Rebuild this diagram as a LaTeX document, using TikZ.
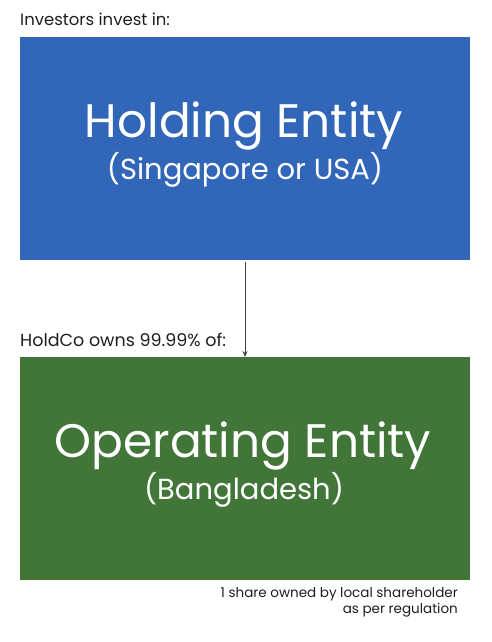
\documentclass[tikz,border=0pt]{standalone}
\usepackage{fontspec}
\setmainfont{Poppins}
\usetikzlibrary{arrows.meta}
\definecolor{boxblue}{RGB}{50,102,184}
\definecolor{boxgreen}{RGB}{66,118,56}
\definecolor{txtgray}{RGB}{30,30,30}
\begin{document}
\begin{tikzpicture}[x=1pt,y=-1pt,
  entity/.style={draw=none,inner sep=0pt,minimum width=450pt,minimum height=223pt,anchor=north west},
  label/.style={inner sep=0pt,anchor=base west,text=txtgray},
  title/.style={inner sep=0pt,anchor=base,text=white}]
\useasboundingbox (0,0) rectangle (492,642);
\node[entity,fill=boxblue] (hold) at (20,37) {};
\node[entity,fill=boxgreen] (op) at (20,357) {};
\node[label,font=\fontsize{16.5}{19}\selectfont] (inv) at (20,26) {Investors invest in:};
\node[label,font=\fontsize{17.5}{20}\selectfont] (own) at (20,346) {HoldCo owns 99.99\% of:};
\node[title,font=\fontsize{47}{52}\selectfont] (ht) at (244,137) {Holding Entity};
\node[title,font=\fontsize{29}{34}\selectfont] (hs) at (245,179) {(Singapore or USA)};
\node[title,font=\fontsize{47}{52}\selectfont] (ot) at (243,457) {Operating Entity};
\node[title,font=\fontsize{29}{34}\selectfont] (os) at (244,499) {(Bangladesh)};
\node[inner sep=0pt,anchor=north east,align=right,text=txtgray,font=\fontsize{13.5}{16}\selectfont] (note) at (458,587) {1 share owned by local shareholder\\as per regulation};
\draw[-{Stealth[length=6pt,width=5pt]},line width=0.8pt,black!75] (hold.south -| 245,0) ++(0,2) coordinate (a) -- (op.north -| a) coordinate (b);
\end{tikzpicture}
\end{document}
